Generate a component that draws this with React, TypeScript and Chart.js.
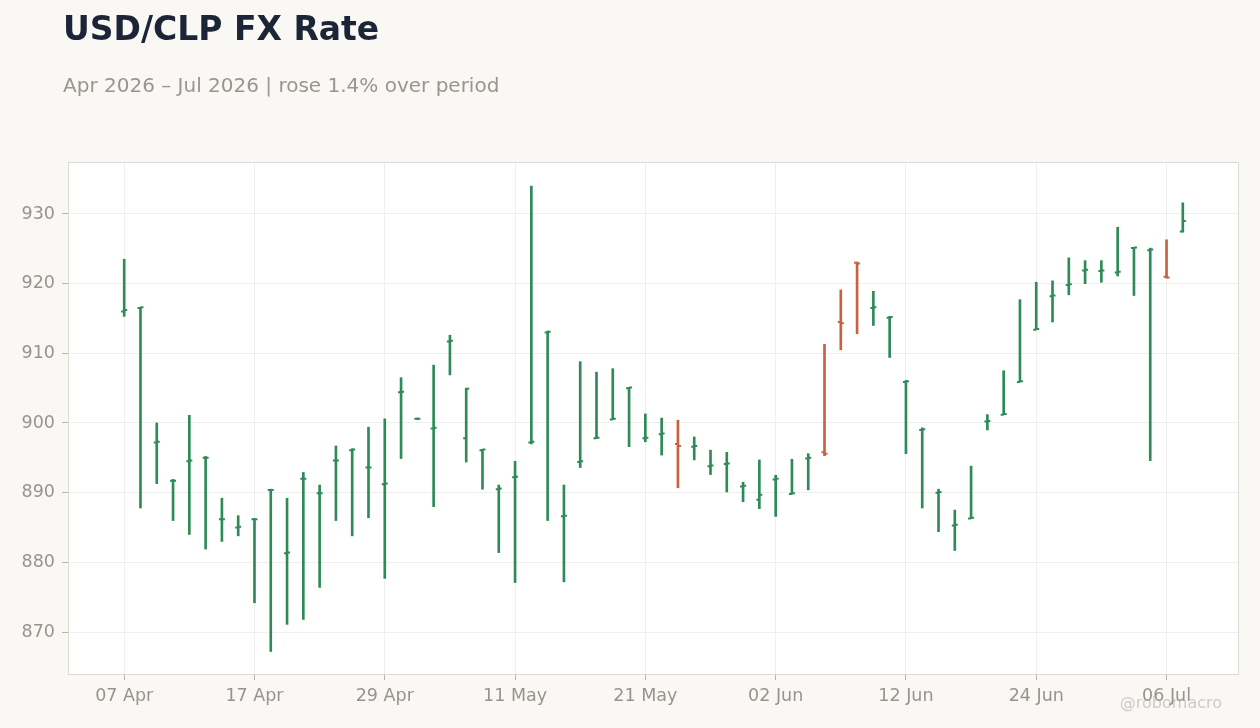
import { useEffect, useRef } from 'react';
import { Chart, registerables, type Plugin } from 'chart.js';

Chart.register(...registerables);

// business days, 07 Apr 2026 -> 07 Jul 2026
const dates = [
  '07 Apr', '08 Apr', '09 Apr', '10 Apr', '13 Apr', '14 Apr', '15 Apr', '16 Apr', '17 Apr', '20 Apr',
  '21 Apr', '22 Apr', '23 Apr', '24 Apr', '27 Apr', '28 Apr', '29 Apr', '30 Apr', '01 May', '04 May',
  '05 May', '06 May', '07 May', '08 May', '11 May', '12 May', '13 May', '14 May', '15 May', '18 May',
  '19 May', '20 May', '21 May', '22 May', '25 May', '26 May', '27 May', '28 May', '29 May', '01 Jun',
  '02 Jun', '03 Jun', '04 Jun', '05 Jun', '08 Jun', '09 Jun', '10 Jun', '11 Jun', '12 Jun', '15 Jun',
  '16 Jun', '17 Jun', '18 Jun', '19 Jun', '22 Jun', '23 Jun', '24 Jun', '25 Jun', '26 Jun', '29 Jun',
  '30 Jun', '01 Jul', '02 Jul', '03 Jul', '06 Jul', '07 Jul',
];

const opens = [
  916.0, 916.5, 897.2, 891.7, 894.5, 895.0, 886.2, 885.0, 886.2, 890.4,
  881.3, 892.0, 889.9, 894.6, 896.1, 893.6, 891.2, 904.4, 900.6, 899.2,
  911.7, 897.8, 896.1, 890.5, 892.2, 897.2, 913.0, 886.6, 894.4, 897.8,
  900.5, 905.0, 897.8, 898.4, 897.0, 896.6, 893.8, 894.1, 890.9, 889.0,
  891.9, 889.8, 894.9, 895.8, 914.5, 923.0, 916.5, 915.1, 905.9, 899.0,
  890.0, 885.3, 886.3, 900.2, 901.2, 905.9, 913.4, 918.2, 919.8, 921.9,
  921.8, 921.6, 925.1, 924.8, 921.0, 927.5,
];
const highs = [
  923.5, 916.6, 900.0, 891.9, 901.1, 895.2, 889.2, 886.7, 886.3, 890.5,
  889.2, 892.9, 891.1, 896.7, 896.3, 899.4, 900.6, 906.5, 900.7, 908.3,
  912.6, 905.0, 896.2, 891.1, 894.5, 934.0, 913.2, 891.1, 908.8, 907.3,
  907.8, 905.1, 901.3, 900.7, 900.4, 898.0, 896.1, 895.8, 891.5, 894.7,
  892.5, 894.8, 895.6, 911.3, 919.1, 923.1, 918.9, 915.3, 906.1, 899.3,
  890.5, 887.5, 893.8, 901.2, 907.5, 917.7, 920.2, 920.4, 923.7, 923.3,
  923.3, 928.1, 925.2, 925.1, 926.3, 931.6,
];
const lows = [
  915.3, 887.8, 891.3, 886.0, 884.0, 881.9, 883.0, 883.8, 874.2, 867.2,
  871.1, 871.8, 876.4, 886.0, 883.8, 886.4, 877.7, 894.9, 900.5, 888.0,
  906.9, 894.4, 890.5, 881.4, 877.1, 897.0, 886.0, 877.2, 893.6, 897.8,
  900.5, 896.6, 897.3, 895.4, 890.7, 894.7, 892.6, 890.1, 888.7, 887.7,
  886.6, 889.8, 890.4, 895.3, 910.5, 912.8, 914.0, 909.4, 895.6, 887.8,
  884.4, 881.7, 886.3, 899.0, 901.2, 905.9, 913.4, 914.5, 918.4, 920.0,
  920.2, 921.1, 918.3, 894.6, 920.8, 927.4,
];
const closes = [
  916.2, 916.6, 897.3, 891.7, 894.6, 895.0, 886.2, 885.1, 886.2, 890.4,
  881.4, 892.0, 889.9, 894.6, 896.2, 893.6, 891.3, 904.5, 900.6, 899.3,
  911.8, 904.9, 896.2, 890.6, 892.3, 897.3, 913.1, 886.7, 894.5, 897.9,
  900.6, 905.1, 897.9, 898.5, 896.7, 896.7, 893.9, 894.2, 891.0, 889.7,
  892.0, 889.9, 895.0, 895.6, 914.3, 922.9, 916.6, 915.2, 906.0, 899.1,
  890.1, 885.4, 886.4, 900.3, 901.3, 906.0, 913.5, 918.3, 919.9, 922.0,
  921.9, 921.7, 925.2, 924.9, 920.9, 929.0,
];

const UP = '#2e8b57';
const DOWN = '#c9613f';
const colors = closes.map((c, i) => (c >= opens[i] ? UP : DOWN));

const frame: Plugin = {
  id: 'frame',
  beforeDraw(chart) {
    const { ctx, chartArea: a } = chart;
    ctx.save();
    ctx.fillStyle = '#ffffff';
    ctx.fillRect(a.left, a.top, a.right - a.left, a.bottom - a.top);
    ctx.restore();
  },
  afterDraw(chart) {
    const { ctx, chartArea: a } = chart;
    ctx.save();
    ctx.strokeStyle = '#dedad4';
    ctx.lineWidth = 1;
    ctx.strokeRect(a.left + 0.5, a.top + 0.5, a.right - a.left - 1, a.bottom - a.top - 1);
    ctx.restore();
  },
};

// open tick to the left, close tick to the right
const ohlcTicks: Plugin = {
  id: 'ohlcTicks',
  afterDatasetsDraw(chart) {
    const { ctx } = chart;
    const xs = chart.scales.x;
    const ys = chart.scales.y;
    ctx.save();
    ctx.lineWidth = 2;
    opens.forEach((o, i) => {
      const x = xs.getPixelForValue(i);
      const yo = ys.getPixelForValue(o);
      const yc = ys.getPixelForValue(closes[i]);
      ctx.strokeStyle = colors[i];
      ctx.beginPath();
      ctx.moveTo(x - 3, yo);
      ctx.lineTo(x, yo);
      ctx.moveTo(x, yc);
      ctx.lineTo(x + 3, yc);
      ctx.stroke();
    });
    ctx.restore();
  },
};

export default function App() {
  const canvas = useRef<HTMLCanvasElement>(null);

  useEffect(() => {
    document.body.style.margin = '0';
    const current = canvas.current;
    if (!current) return;
    const chart = new Chart(current, {
      type: 'bar',
      data: {
        datasets: [
          {
            data: dates.map((_, i) => ({ x: i, y: [lows[i], highs[i]] })) as any,
            backgroundColor: colors,
            borderWidth: 0,
            barThickness: 2,
          },
        ],
      },
      options: {
        responsive: true,
        maintainAspectRatio: false,
        animation: false,
        events: [],
        layout: { padding: { left: 0, top: 162, right: 21, bottom: 0 } },
        plugins: {
          legend: { display: false },
          tooltip: { enabled: false },
        },
        scales: {
          x: {
            type: 'linear',
            min: -3.45,
            max: 68.45,
            offset: false,
            afterBuildTicks: (scale) => {
              scale.ticks = [0, 8, 16, 24, 32, 40, 48, 56, 64].map((v) => ({ value: v }));
            },
            afterFit: (scale) => {
              scale.height = 53;
            },
            ticks: {
              callback: (v) => dates[Number(v)] ?? '',
              color: '#98938d',
              font: { family: 'DejaVu Sans', size: 17.5 },
              padding: 6,
              maxRotation: 0,
              autoSkip: false,
            },
            grid: { offset: false, color: '#efefef', tickColor: '#b8b3ad', tickLength: 5 },
            border: { display: false },
          },
          y: {
            min: 863.83,
            max: 937.46,
            afterFit: (scale) => {
              scale.width = 68;
            },
            ticks: {
              stepSize: 10,
              includeBounds: false,
              color: '#98938d',
              font: { family: 'DejaVu Sans', size: 17.5 },
              padding: 7,
            },
            grid: { color: '#efefef', tickColor: '#b8b3ad', tickLength: 6 },
            border: { display: false },
          },
        },
      },
      plugins: [frame, ohlcTicks],
    });
    return () => chart.destroy();
  }, []);

  return (
    <div
      style={{
        position: 'fixed',
        left: 0,
        top: 0,
        width: 1260,
        height: 728,
        background: '#f9f8f5',
        fontFamily: 'DejaVu Sans',
      }}
    >
      <canvas ref={canvas} style={{ position: 'absolute', left: 0, top: 0 }}></canvas>
      <div
        style={{
          position: 'absolute',
          left: 63,
          top: 12,
          fontSize: 33,
          lineHeight: '33px',
          fontWeight: 'bold',
          color: '#1c2536',
          whiteSpace: 'nowrap',
        }}
      >
        USD/CLP FX Rate
      </div>
      <div
        style={{
          position: 'absolute',
          left: 63,
          top: 75,
          fontSize: 20,
          lineHeight: '20px',
          color: '#9a958f',
          whiteSpace: 'nowrap',
        }}
      >
        Apr 2026 – Jul 2026 | rose 1.4% over period
      </div>
      <div
        style={{
          position: 'absolute',
          right: 38,
          top: 695,
          fontSize: 16,
          lineHeight: '16px',
          color: 'rgba(170,165,158,0.55)',
          whiteSpace: 'nowrap',
        }}
      >
        @robomacro
      </div>
    </div>
  );
}
